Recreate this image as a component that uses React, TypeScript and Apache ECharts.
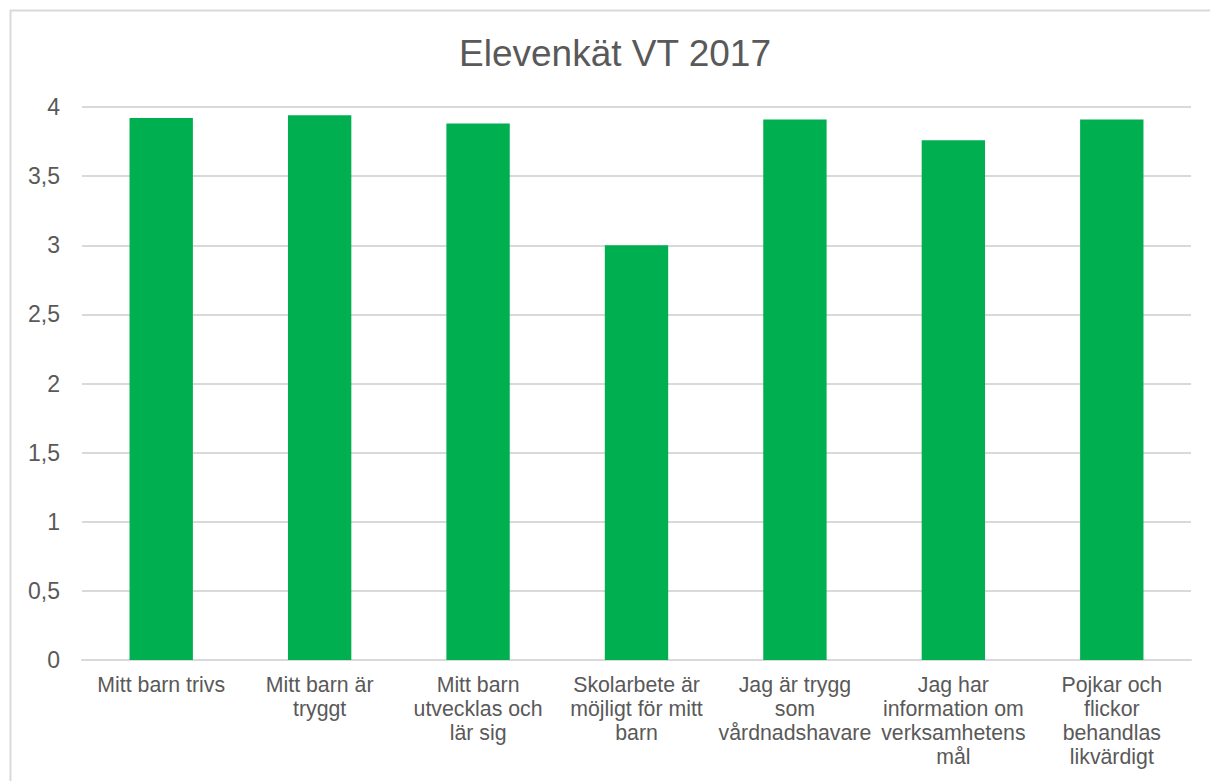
import React, { useEffect, useRef } from "react";
import * as echarts from "echarts";

const titleText = "Elevenkät VT 2017";
const categories = [
  "Mitt barn trivs",
  "Mitt barn är tryggt",
  "Mitt barn utvecklas och lär sig",
  "Skolarbete är möjligt för mitt barn",
  "Jag är trygg som vårdnadshavare",
  "Jag har information om verksamhetens mål",
  "Pojkar och flickor behandlas likvärdigt",
];
const categoryLabelLines = [
  ["Mitt barn trivs"],
  ["Mitt barn är", "tryggt"],
  ["Mitt barn", "utvecklas och", "lär sig"],
  ["Skolarbete är", "möjligt för mitt", "barn"],
  ["Jag är trygg", "som", "vårdnadshavare"],
  ["Jag har", "information om", "verksamhetens", "mål"],
  ["Pojkar och", "flickor", "behandlas", "likvärdigt"],
];
const values = [3.92, 3.94, 3.88, 3.0, 3.91, 3.76, 3.91];
const yMin = 0;
const yMax = 4;
const yStep = 0.5;

export default function App() {
  const ref = useRef<HTMLDivElement>(null);
  useEffect(() => {
    if (!ref.current) return;
    const chart = echarts.init(ref.current, undefined, { renderer: "svg" });
    const font = "'Liberation Sans', Arial, sans-serif";
    chart.setOption({
      animation: false,
      backgroundColor: "#ffffff",
      title: {
        text: titleText,
        left: 454,
        top: 30,
        textStyle: {
          fontFamily: font,
          fontSize: 37,
          fontWeight: "normal",
          color: "#595959",
        },
      },
      graphic: [
        {
          type: "rect",
          shape: { x: 10.5, y: 10.5, width: 1230, height: 800 },
          style: { fill: "none", stroke: "#d9d9d9", lineWidth: 2 },
          silent: true,
          z: -1,
        },
      ],
      grid: { left: 82, right: 19, top: 107, bottom: 121 },
      xAxis: {
        type: "category",
        data: categories,
        axisLine: { show: true, lineStyle: { color: "#d9d9d9", width: 2 } },
        axisTick: { show: false },
        axisLabel: {
          interval: 0,
          margin: 13,
          fontFamily: font,
          fontSize: 21.3,
          lineHeight: 24,
          color: "#595959",
          formatter: (_v: string, i: number) => categoryLabelLines[i].join("\n"),
        },
      },
      yAxis: {
        type: "value",
        min: yMin,
        max: yMax,
        interval: yStep,
        axisLine: { show: false },
        axisTick: { show: false },
        splitLine: { lineStyle: { color: "#d9d9d9", width: 2 } },
        axisLabel: {
          margin: 22,
          fontFamily: font,
          fontSize: 23,
          color: "#595959",
          formatter: (v: number) => String(v).replace(".", ","),
        },
      },
      series: [
        {
          type: "bar",
          data: values,
          barWidth: "40%",
          itemStyle: { color: "#00B050" },
        },
      ],
    });
    return () => chart.dispose();
  }, []);
  return (
    <div
      ref={ref}
      style={{ position: "fixed", left: 0, top: 0, width: 1210, height: 781 }}
    />
  );
}
